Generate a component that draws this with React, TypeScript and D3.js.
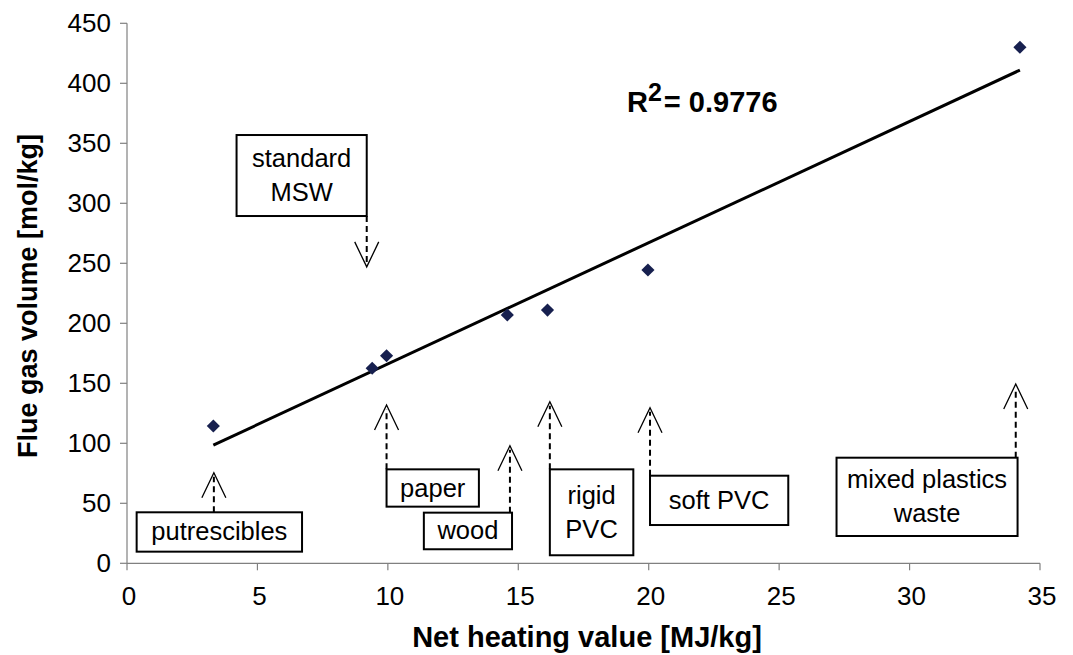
import React from 'react';
import * as d3 from 'd3';

// measured points: net heating value [MJ/kg] vs flue gas volume [mol/kg]
const heatValues = [3.31, 9.4, 9.95, 14.58, 16.12, 19.97, 34.23];
const gasVolumes = [114.4, 162.5, 173, 207, 211, 244.4, 430];

const xTicks = [0, 5, 10, 15, 20, 25, 30, 35];
const yTicks = [0, 50, 100, 150, 200, 250, 300, 350, 400, 450];

// annotation boxes (data units): label lines, box extent, arrow x, arrow tip y
const noteLabels = [['putrescibles'], ['paper'], ['wood'], ['rigid', 'PVC'], ['soft PVC'], ['mixed plastics', 'waste'], ['standard', 'MSW']];
const noteBoxX = [[0.37, 6.71], [9.95, 13.49], [11.38, 14.76], [16.21, 19.41], [20.05, 25.35], [27.2, 34.14], [4.2, 9.19]];
const noteBoxY = [[42.5, 9.7], [78.3, 47.2], [42.2, 11.7], [78.3, 6.7], [73, 31.9], [88, 22.75], [356.9, 289.4]];
const noteArrowX = [3.33, 9.95, 14.68, 16.21, 20.05, 34.07, 9.19];
const noteArrowTip = [75.5, 131.9, 98, 134.7, 129.7, 149.4, 247];

const rSquared = '0.9776';

const W = 1073, H = 655;
const margin = { top: 23.3, right: 33, bottom: 91.7, left: 127 };

const font = '"Liberation Sans", Arial, sans-serif';

export default function App() {
  const x = d3.scaleLinear().domain([0, 35]).range([margin.left, W - margin.right]);
  const y = d3.scaleLinear().domain([0, 450]).range([H - margin.bottom, margin.top]);

  // least squares trend line
  const mx = d3.mean(heatValues)!;
  const my = d3.mean(gasVolumes)!;
  const sxy = d3.sum(heatValues, (v, i) => (v - mx) * (gasVolumes[i] - my));
  const sxx = d3.sum(heatValues, v => (v - mx) * (v - mx));
  const slope = sxy / sxx;
  const icpt = my - slope * mx;
  const xExt = d3.extent(heatValues) as [number, number];
  const trend = d3.line<number>().x(v => x(v)).y(v => y(icpt + slope * v));

  const diamond = d3.symbol().type(d3.symbolDiamond2).size(110)();

  const x0 = x(0), y0 = y(0);
  const axisColor = '#808080';

  return (
    <svg width={W} height={H} style={{ position: 'absolute', left: 0, top: 0, background: '#fff' }} fontFamily={font}>
      {/* axes */}
      <line x1={x0} x2={x(35)} y1={y0} y2={y0} stroke={axisColor} strokeWidth={1.2} />
      <line x1={x0} x2={x0} y1={y0} y2={y(450)} stroke={axisColor} strokeWidth={1.2} />
      {xTicks.map(t => (
        <g key={'x' + t}>
          <line x1={x(t)} x2={x(t)} y1={y0} y2={y0 + 7} stroke={axisColor} strokeWidth={1.2} />
          <text x={x(t) + 2} y={y0 + 42} textAnchor="middle" fontSize={26} fill="#000">{t}</text>
        </g>
      ))}
      {yTicks.map(t => (
        <g key={'y' + t}>
          <line x1={x0 - 7} x2={x0} y1={y(t)} y2={y(t)} stroke={axisColor} strokeWidth={1.2} />
          <text x={x0 - 16} y={y(t) + 9} textAnchor="end" fontSize={26} fill="#000">{t}</text>
        </g>
      ))}

      {/* axis titles */}
      <text x={587} y={647} textAnchor="middle" fontSize={29} fontWeight="bold">Net heating value [MJ/kg]</text>
      <text transform="translate(37,296) rotate(-90)" textAnchor="middle" fontSize={27} fontWeight="bold">Flue gas volume [mol/kg]</text>

      {/* trend line */}
      <path d={trend(xExt)!} fill="none" stroke="#000" strokeWidth={3} />

      {/* points */}
      {heatValues.map((v, i) => (
        <path key={'p' + i} d={diamond!} transform={`translate(${x(v)},${y(gasVolumes[i])})`} fill="#17204f" />
      ))}

      {/* R squared */}
      <text x={627} y={112} fontSize={29} fontWeight="bold">
        R<tspan fontSize={25} dy={-11}>2</tspan><tspan dy={11} dx={2}>{'= ' + rSquared}</tspan>
      </text>

      {/* annotations */}
      {noteLabels.map((lines, i) => {
        const bx0 = x(noteBoxX[i][0]), bx1 = x(noteBoxX[i][1]);
        const by0 = y(noteBoxY[i][0]), by1 = y(noteBoxY[i][1]);
        const ax = x(noteArrowX[i]);
        const tip = y(noteArrowTip[i]);
        const down = tip > by1;
        const start = down ? by1 : by0;
        const dir = down ? -1 : 1;
        const cx = (bx0 + bx1) / 2, cy = (by0 + by1) / 2;
        return (
          <g key={'n' + i}>
            <line x1={ax} x2={ax} y1={start} y2={tip + dir * 4} stroke="#000" strokeWidth={2} strokeDasharray="6,4" />
            <polyline points={`${ax - 12},${tip + dir * 25} ${ax},${tip} ${ax + 12},${tip + dir * 25}`} fill="none" stroke="#000" strokeWidth={1.3} />
            <rect x={bx0} y={by0} width={bx1 - bx0} height={by1 - by0} fill="#fff" stroke="#000" strokeWidth={2} />
            {lines.map((s, j) => (
              <text key={j} x={cx} y={cy + (j - (lines.length - 1) / 2) * 34 + 8.5} textAnchor="middle" fontSize={25.5} fill="#000">{s}</text>
            ))}
          </g>
        );
      })}
    </svg>
  );
}
